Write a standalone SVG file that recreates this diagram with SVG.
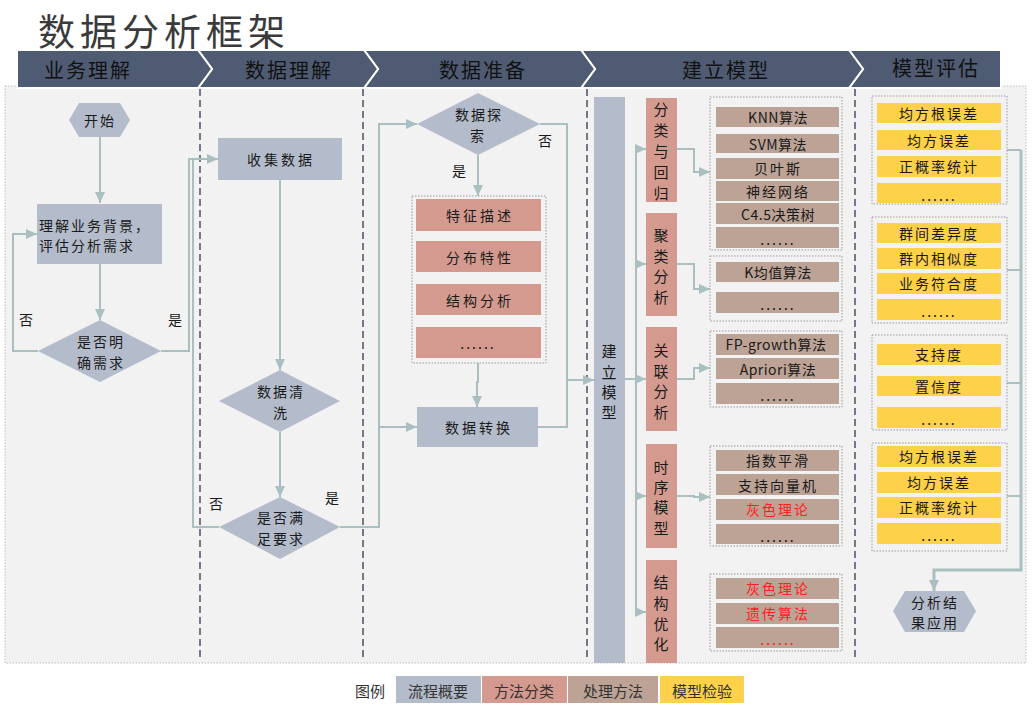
<svg xmlns="http://www.w3.org/2000/svg" width="1033" height="708" viewBox="0 0 1033 708">
<style>
.flow{fill:#b4bccb}
.cls{fill:#d59a8f}
.proc{fill:#bca396}
.chk{fill:#fdd14a}
.t{font-family:"Noto Sans CJK SC",sans-serif;font-size:14px;fill:#1a1a1a;text-anchor:middle;dominant-baseline:central;letter-spacing:2px}
.v{font-size:15px;letter-spacing:0}
.lat{letter-spacing:0.5px}
.red{fill:#ff2020}
.grp{fill:none;stroke:#9a9a9a;stroke-dasharray:1.5 1.5;stroke-width:1}
.hdr{fill:#4f5b73;stroke:#ffffff;stroke-width:2}
.ht{font-family:"Noto Sans CJK SC",sans-serif;font-size:20px;fill:#111;text-anchor:middle;dominant-baseline:central;letter-spacing:2px}
.sep{stroke:#4a5263;stroke-width:1.5;stroke-dasharray:7 4;fill:none}
.conn path{fill:none;stroke:#aabfbf;stroke-width:2}
.lg{font-family:"Noto Sans CJK SC",sans-serif;font-size:15px;fill:#333;text-anchor:middle;dominant-baseline:central}
</style>
<defs>
<marker id="ah" markerUnits="userSpaceOnUse" markerWidth="12" markerHeight="10" refX="11" refY="5" orient="auto">
<path d="M0,0 L11,5 L0,10 z" fill="#aabfbf"/>
</marker>
</defs>
<rect width="1033" height="708" fill="#ffffff"/>
<rect x="5" y="86" width="1021" height="577" fill="#f2f2f2" stroke="#bdbdbd" stroke-width="1" stroke-dasharray="1.5 1.5"/>
<text x="38" y="46" font-family="'Noto Sans CJK SC',sans-serif" font-size="37" fill="#3a3a3a" letter-spacing="5">数据分析框架</text>
<g id="header">
<polygon class="hdr" points="849,50 1001,50 1001,88 849,88 863,69"/>
<polygon class="hdr" points="581,50 849,50 863,69 849,88 581,88 595,69"/>
<polygon class="hdr" points="364,50 581,50 595,69 581,88 364,88 378,69"/>
<polygon class="hdr" points="198,50 364,50 378,69 364,88 198,88 212,69"/>
<polygon class="hdr" points="17,50 198,50 212,69 198,88 17,88"/>
<text class="ht" x="88" y="69">业务理解</text>
<text class="ht" x="289" y="69">数据理解</text>
<text class="ht" x="483" y="69">数据准备</text>
<text class="ht" x="726" y="69">建立模型</text>
<text class="ht" x="936" y="67">模型评估</text>
</g>
<g id="separators">
<line class="sep" x1="200" y1="89" x2="200" y2="660"/>
<line class="sep" x1="363" y1="89" x2="363" y2="660"/>
<line class="sep" x1="587" y1="89" x2="587" y2="660"/>
<line class="sep" x1="855" y1="89" x2="855" y2="660"/>
</g>
<g class="conn" id="connectors">
<path d="M100,137 V203" marker-end="url(#ah)"/>
<path d="M100,264 V320" marker-end="url(#ah)"/>
<path d="M38,351 H13 V234 H37" marker-end="url(#ah)"/>
<path d="M161,351 H189 V159 H218" marker-end="url(#ah)"/>
<path d="M219,527 H193 V159 H218"/>
<path d="M280,180 V370" marker-end="url(#ah)"/>
<path d="M280,432 V497" marker-end="url(#ah)"/>
<path d="M340,527 H379 V124 H417" marker-end="url(#ah)"/>
<path d="M379,427 H417" marker-end="url(#ah)"/>
<path d="M478,155 V196" marker-end="url(#ah)"/>
<path d="M478,363 V382 H477 V407" marker-end="url(#ah)"/>
<path d="M540,124 H567 V380 H594" marker-end="url(#ah)"/>
<path d="M538,427 H567 V380"/>
<path d="M625,379 H636"/>
<path d="M636,149 V612"/>
<path d="M636,149 H646" marker-end="url(#ah)"/>
<path d="M636,264 H646" marker-end="url(#ah)"/>
<path d="M636,379 H646" marker-end="url(#ah)"/>
<path d="M636,496 H646" marker-end="url(#ah)"/>
<path d="M636,612 H646" marker-end="url(#ah)"/>
<path d="M677,149 H694 V172 H710" marker-end="url(#ah)"/>
<path d="M677,264 H694 V289 H710" marker-end="url(#ah)"/>
<path d="M677,379 H694 V368 H710" marker-end="url(#ah)"/>
<path d="M677,496 H694 V497 H710" marker-end="url(#ah)"/>
<path d="M1007,150 H1021"/>
<path d="M1007,270 H1021"/>
<path d="M1007,383 H1021"/>
<path d="M1007,496 H1021"/>
<path d="M1021,150 V570 H934 V591" marker-end="url(#ah)" style="stroke-width:3"/>
</g>
<g id="n-start">
<polygon class="flow" points="69,120 79,103 120,103 130,120 120,137 79,137"/>
<text class="t" x="100" y="120">开始</text>
</g>
<g id="n-understand">
<rect class="flow" x="37" y="204" width="125" height="60"/>
<text class="t" x="39" y="225" style="text-anchor:start">理解业务背景，</text>
<text class="t" x="39" y="245" style="text-anchor:start">评估分析需求</text>
</g>
<g id="n-clear">
<polygon class="flow" points="38,351 100,320 161,351 100,382"/>
<text class="t" x="101" y="341">是否明</text>
<text class="t" x="101" y="362">确需求</text>
</g>
<text class="t" x="27" y="319">否</text>
<text class="t" x="176" y="319">是</text>
<g id="n-collect">
<rect class="flow" x="218" y="138" width="124" height="42"/>
<text class="t" x="281" y="159" style="letter-spacing:3px">收集数据</text>
</g>
<g id="n-clean">
<polygon class="flow" points="219,401 280,370 340,401 280,432"/>
<text class="t" x="281" y="391">数据清</text>
<text class="t" x="281" y="412">洗</text>
</g>
<g id="n-satisfy">
<polygon class="flow" points="219,527 280,497 340,527 280,559"/>
<text class="t" x="281" y="517">是否满</text>
<text class="t" x="281" y="538">足要求</text>
</g>
<text class="t" x="217" y="503">否</text>
<text class="t" x="333" y="497">是</text>
<g id="n-explore">
<polygon class="flow" points="417,124 478,93 540,124 478,155"/>
<text class="t" x="479" y="114">数据探</text>
<text class="t" x="478" y="135">索</text>
</g>
<text class="t" x="546" y="140">否</text>
<text class="t" x="460" y="170">是</text>
<g id="n-explore-items">
<rect class="grp" x="412" y="196" width="134" height="167"/>
<rect class="cls" x="416" y="199" width="125" height="32"/>
<text class="t" x="480" y="215" style="letter-spacing:3px">特征描述</text>
<rect class="cls" x="416" y="241" width="125" height="31"/>
<text class="t" x="480" y="257" style="letter-spacing:3px">分布特性</text>
<rect class="cls" x="416" y="284" width="125" height="31"/>
<text class="t" x="480" y="300" style="letter-spacing:3px">结构分析</text>
<rect class="cls" x="416" y="327" width="125" height="31"/>
<text class="t" x="478" y="343">......</text>
</g>
<g id="n-transform">
<rect class="flow" x="417" y="407" width="121" height="40"/>
<text class="t" x="479" y="427" style="letter-spacing:3px">数据转换</text>
</g>
<g id="n-build">
<rect class="flow" x="594" y="97" width="31" height="566"/>
<text class="t v" x="609" y="350">建</text>
<text class="t v" x="609" y="371">立</text>
<text class="t v" x="609" y="391">模</text>
<text class="t v" x="609" y="411">型</text>
</g>
<g id="n-cat1">
<rect class="cls" x="646" y="98" width="31" height="104"/>
<text class="t v" x="661" y="108">分</text>
<text class="t v" x="661" y="129">类</text>
<text class="t v" x="661" y="150">与</text>
<text class="t v" x="661" y="171">回</text>
<text class="t v" x="661" y="192">归</text>
</g>
<g id="n-cat2">
<rect class="cls" x="646" y="213" width="31" height="103"/>
<text class="t v" x="661" y="234">聚</text>
<text class="t v" x="661" y="255">类</text>
<text class="t v" x="661" y="275">分</text>
<text class="t v" x="661" y="296">析</text>
</g>
<g id="n-cat3">
<rect class="cls" x="646" y="327" width="31" height="104"/>
<text class="t v" x="661" y="349">关</text>
<text class="t v" x="661" y="370">联</text>
<text class="t v" x="661" y="390">分</text>
<text class="t v" x="661" y="411">析</text>
</g>
<g id="n-cat4">
<rect class="cls" x="646" y="444" width="31" height="104"/>
<text class="t v" x="661" y="466">时</text>
<text class="t v" x="661" y="486">序</text>
<text class="t v" x="661" y="506">模</text>
<text class="t v" x="661" y="527">型</text>
</g>
<g id="n-cat5">
<rect class="cls" x="646" y="560" width="31" height="103"/>
<text class="t v" x="661" y="581">结</text>
<text class="t v" x="661" y="602">构</text>
<text class="t v" x="661" y="623">优</text>
<text class="t v" x="661" y="643">化</text>
</g>
<g id="n-grp1">
<rect class="grp" x="710" y="97" width="132" height="153"/>
<rect class="proc" x="716" y="107" width="123" height="20"/>
<text class="t lat" x="778" y="117">KNN算法</text>
<rect class="proc" x="716" y="134" width="123" height="19"/>
<text class="t lat" x="778" y="144">SVM算法</text>
<rect class="proc" x="716" y="158" width="123" height="21"/>
<text class="t" x="778" y="168">贝叶斯</text>
<rect class="proc" x="716" y="181" width="123" height="20"/>
<text class="t" x="778" y="191">神经网络</text>
<rect class="proc" x="716" y="203" width="123" height="21"/>
<text class="t lat" x="778" y="214">C4.5决策树</text>
<rect class="proc" x="716" y="227" width="123" height="21"/>
<text class="t" x="778" y="239">......</text>
</g>
<g id="n-grp2">
<rect class="grp" x="710" y="256" width="132" height="65"/>
<rect class="proc" x="716" y="262" width="123" height="20"/>
<text class="t lat" x="778" y="272">K均值算法</text>
<rect class="proc" x="716" y="292" width="123" height="21"/>
<text class="t" x="778" y="304">......</text>
</g>
<g id="n-grp3">
<rect class="grp" x="710" y="331" width="132" height="76"/>
<rect class="proc" x="716" y="334" width="123" height="21"/>
<text class="t lat" x="776" y="344">FP-growth算法</text>
<rect class="proc" x="716" y="358" width="123" height="21"/>
<text class="t lat" x="778" y="369">Apriori算法</text>
<rect class="proc" x="716" y="383" width="123" height="21"/>
<text class="t" x="778" y="395">......</text>
</g>
<g id="n-grp4">
<rect class="grp" x="710" y="446" width="132" height="100"/>
<rect class="proc" x="716" y="450" width="123" height="21"/>
<text class="t" x="778" y="460">指数平滑</text>
<rect class="proc" x="716" y="474" width="123" height="21"/>
<text class="t" x="778" y="485">支持向量机</text>
<rect class="proc" x="716" y="499" width="123" height="21"/>
<text class="t red" x="778" y="509">灰色理论</text>
<rect class="proc" x="716" y="524" width="123" height="20"/>
<text class="t" x="778" y="536">......</text>
</g>
<g id="n-grp5">
<rect class="grp" x="710" y="574" width="132" height="77"/>
<rect class="proc" x="716" y="578" width="123" height="21"/>
<text class="t red" x="778" y="588">灰色理论</text>
<rect class="proc" x="716" y="603" width="123" height="21"/>
<text class="t red" x="778" y="613">遗传算法</text>
<rect class="proc" x="716" y="627" width="123" height="21"/>
<text class="t red" x="778" y="639">......</text>
</g>
<g id="n-evalA">
<rect class="grp" x="872" y="96" width="135" height="108"/>
<rect class="chk" x="877" y="103" width="124" height="20"/>
<text class="t" x="939" y="113">均方根误差</text>
<rect class="chk" x="877" y="130" width="124" height="20"/>
<text class="t" x="939" y="140">均方误差</text>
<rect class="chk" x="877" y="156" width="124" height="21"/>
<text class="t" x="939" y="166">正概率统计</text>
<rect class="chk" x="877" y="183" width="124" height="20"/>
<text class="t" x="939" y="195">......</text>
</g>
<g id="n-evalB">
<rect class="grp" x="872" y="217" width="135" height="106"/>
<rect class="chk" x="877" y="223" width="124" height="20"/>
<text class="t" x="939" y="233">群间差异度</text>
<rect class="chk" x="877" y="248" width="124" height="21"/>
<text class="t" x="939" y="258">群内相似度</text>
<rect class="chk" x="877" y="273" width="124" height="21"/>
<text class="t" x="939" y="283">业务符合度</text>
<rect class="chk" x="877" y="299" width="124" height="21"/>
<text class="t" x="939" y="311">......</text>
</g>
<g id="n-evalC">
<rect class="grp" x="872" y="335" width="135" height="95"/>
<rect class="chk" x="877" y="344" width="124" height="21"/>
<text class="t" x="939" y="354">支持度</text>
<rect class="chk" x="877" y="376" width="124" height="20"/>
<text class="t" x="939" y="386">置信度</text>
<rect class="chk" x="877" y="407" width="124" height="21"/>
<text class="t" x="939" y="419">......</text>
</g>
<g id="n-evalD">
<rect class="grp" x="872" y="443" width="135" height="108"/>
<rect class="chk" x="877" y="446" width="124" height="21"/>
<text class="t" x="939" y="456">均方根误差</text>
<rect class="chk" x="877" y="472" width="124" height="21"/>
<text class="t" x="939" y="482">均方误差</text>
<rect class="chk" x="877" y="497" width="124" height="21"/>
<text class="t" x="939" y="507">正概率统计</text>
<rect class="chk" x="877" y="523" width="124" height="21"/>
<text class="t" x="939" y="535">......</text>
</g>
<g id="n-apply">
<polygon class="flow" points="893,611 905,591 964,591 976,611 964,632 905,632"/>
<text class="t" x="935" y="602">分析结</text>
<text class="t" x="935" y="622">果应用</text>
</g>
<g id="legend">
<text class="lg" x="370" y="690">图例</text>
<rect class="flow" x="396" y="676" width="85" height="27"/>
<text class="lg" x="438" y="690">流程概要</text>
<rect class="cls" x="482" y="676" width="85" height="27"/>
<text class="lg" x="524" y="690">方法分类</text>
<rect class="proc" x="568" y="676" width="90" height="27"/>
<text class="lg" x="613" y="690">处理方法</text>
<rect class="chk" x="660" y="676" width="84" height="27"/>
<text class="lg" x="702" y="690">模型检验</text>
</g>
</svg>
